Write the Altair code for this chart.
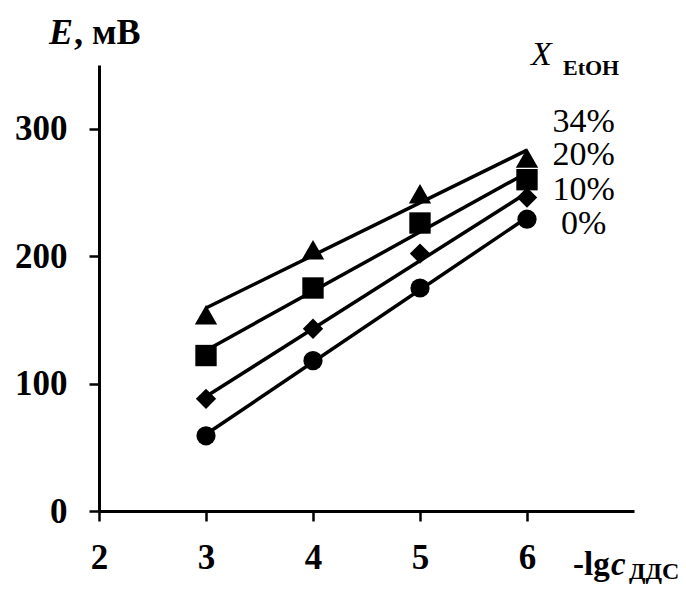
import altair as alt
import pandas as pd

# ---- data ----
x_vals = [3, 4, 5, 6]
e_0 = [59, 118, 175, 229]      # circles
e_10 = [88, 143, 202, 246]     # diamonds
e_20 = [122, 175, 226, 260]    # squares
e_34 = [154, 205, 249, 277]    # triangles
series_names = ["0%", "10%", "20%", "34%"]
shapes = ["circle", "diamond", "square", "triangle-up"]
sizes = [370, 500, 256, 480]

label_text = ["0%", "10%", "20%", "34%"]
label_x = [6.53, 6.53, 6.53, 6.53]
label_y = [225, 252, 279, 305]

x_ticks = [2, 3, 4, 5, 6]
y_ticks = [0, 100, 200, 300]

y_title_italic = "E"
y_title_rest = ", мВ"
x_title_a = "-lg"
x_title_b = "c"
x_title_sub = "ДДС"
leg_title_main = "X"
leg_title_sub = "EtOH"

FONT = "Liberation Serif"

rows = []
for name, ys in zip(series_names, [e_0, e_10, e_20, e_34]):
    for x, y in zip(x_vals, ys):
        rows.append({"x": x, "E": y, "series": name})
df = pd.DataFrame(rows)
labels_df = pd.DataFrame({"x": label_x, "E": label_y, "t": label_text})

xscale = alt.Scale(domain=[2, 7], nice=False, zero=False)
yscale = alt.Scale(domain=[0, 350], nice=False)

xaxis = alt.Axis(values=x_ticks, title=None, grid=False, labelFlush=False,
                 labelOverlap=False, labelPadding=19, tickSize=10)
yaxis = alt.Axis(values=y_ticks, title=None, grid=False, labelPadding=22,
                 tickSize=10)

X = alt.X("x:Q", scale=xscale, axis=xaxis)
Y = alt.Y("E:Q", scale=yscale, axis=yaxis)

base = alt.Chart(df)

lines = base.transform_regression(
    "x", "E", groupby=["series"], extent=[3, 6]
).mark_line(color="black", strokeWidth=3.5).encode(
    x=X, y=Y, detail="series:N"
)

points = base.mark_point(filled=True, color="black", opacity=1).encode(
    x=X, y=Y,
    shape=alt.Shape("series:N", scale=alt.Scale(domain=series_names, range=shapes), legend=None),
    size=alt.Size("series:N", scale=alt.Scale(domain=series_names, range=sizes), legend=None),
)

labels = alt.Chart(labels_df).mark_text(
    font=FONT, fontSize=34, color="black", align="center", baseline="middle"
).encode(x=X, y=Y, text="t:N")


def txt(s, x, y, size, weight="normal", style="normal", align="left"):
    return alt.Chart(pd.DataFrame({"t": [s]})).mark_text(
        font=FONT, fontSize=size, fontWeight=weight, fontStyle=style,
        color="black", align=align, baseline="alphabetic"
    ).encode(text="t:N", x=alt.value(x), y=alt.value(y))


titles = [
    txt(y_title_italic, -50, -21, 36, "bold", "italic"),
    txt(y_title_rest, -25, -21, 36, "bold"),
    txt(x_title_a, 474, 510, 33, "bold"),
    txt(x_title_b, 512, 510, 33, "bold", "italic"),
    txt(x_title_sub, 530, 514, 24, "bold"),
    txt(leg_title_main, 432, 0, 34, "normal", "italic"),
    txt(leg_title_sub, 464, 10, 22, "bold"),
]

chart = alt.layer(lines, points, labels, *titles).properties(
    width=535, height=446,
    autosize=alt.AutoSizeParams(type="none"),
    padding={"left": 91, "top": 57, "right": 44, "bottom": 74},
).configure_view(stroke=None).configure_axis(
    domainColor="black", domainWidth=3, tickColor="black", tickWidth=2.5,
    labelFont=FONT, labelFontSize=35, labelFontWeight="bold", labelColor="black",
)

chart.save("out.html", embed_options={"renderer": "svg", "actions": False})
